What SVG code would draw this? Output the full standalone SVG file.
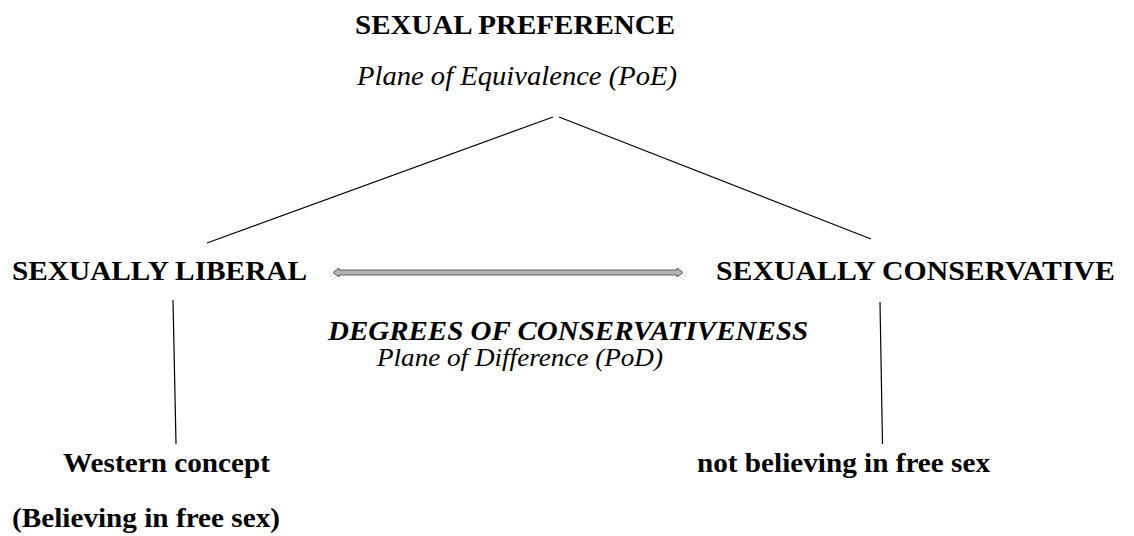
<svg xmlns="http://www.w3.org/2000/svg" width="1134" height="536" viewBox="0 0 1134 536">
<style>
text{font-family:"Liberation Serif","DejaVu Serif","Times New Roman",serif;font-size:28px;fill:#000}
.b{font-weight:bold}
.i{font-style:italic}
.s{font-size:25px}
.ln{stroke:#000;stroke-width:1.2;fill:none}
</style>
<rect width="1134" height="536" fill="#fff"/>
<g id="connectors">
<line class="ln" x1="553" y1="117" x2="207" y2="243"/>
<line class="ln" x1="559" y1="117" x2="871" y2="239"/>
<line class="ln" x1="173" y1="300" x2="176" y2="444"/>
<line class="ln" x1="880" y1="302" x2="882.5" y2="444"/>
<polygon points="333,272.5 339,268 339,270 677,270 677,268 683,272.5 677,277 677,275 339,275 339,277" fill="#b4b4b4" stroke="#5a5a5a" stroke-width="1"/>
</g>
<g id="top">
<text class="b" font-family="Liberation Serif, serif" x="355" y="34" textLength="320" lengthAdjust="spacingAndGlyphs">SEXUAL PREFERENCE</text>
<text class="i" font-family="Liberation Serif, serif" x="357" y="85" textLength="320" lengthAdjust="spacingAndGlyphs">Plane of Equivalence (PoE)</text>
</g>
<g id="liberal">
<text class="b" font-family="Liberation Serif, serif" x="12" y="280" textLength="295" lengthAdjust="spacingAndGlyphs">SEXUALLY LIBERAL</text>
</g>
<g id="conservative">
<text class="b" font-family="Liberation Serif, serif" x="716" y="280" textLength="399" lengthAdjust="spacingAndGlyphs">SEXUALLY CONSERVATIVE</text>
</g>
<g id="degrees">
<text class="b i" font-family="Liberation Serif, serif" x="328" y="340" textLength="480" lengthAdjust="spacingAndGlyphs">DEGREES OF CONSERVATIVENESS</text>
<text class="i s" font-family="Liberation Serif, serif" x="377" y="366" textLength="286" lengthAdjust="spacingAndGlyphs">Plane of Difference (PoD)</text>
</g>
<g id="western">
<text class="b" font-family="Liberation Serif, serif" x="63" y="472" textLength="207" lengthAdjust="spacingAndGlyphs">Western concept</text>
<text class="b" font-family="Liberation Serif, serif" x="12" y="527" textLength="268" lengthAdjust="spacingAndGlyphs">(Believing in free sex)</text>
</g>
<g id="notbelieving">
<text class="b" font-family="Liberation Serif, serif" x="697" y="472" textLength="293" lengthAdjust="spacingAndGlyphs">not believing in free sex</text>
</g>
</svg>
